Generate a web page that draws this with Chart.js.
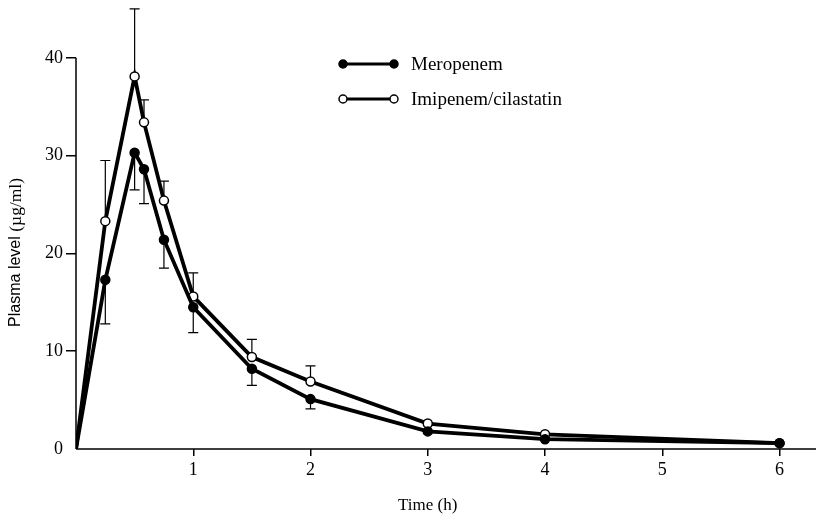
<!DOCTYPE html>
<html>
<head>
<meta charset="utf-8">
<script src="https://cdn.jsdelivr.net/npm/chart.js@4/dist/chart.umd.min.js"></script>
<style>
    html, body { margin: 0; padding: 0; background: #fff; }
</style>
</head>
<body>
<canvas id="chart" width="816" height="522"></canvas>
<script>
// Время отбора проб (ч)
const times = [0, 0.25, 0.5, 0.58, 0.75, 1, 1.5, 2, 3, 4, 6];
// Средние уровни в плазме (мкг/мл)
const meropenem = [0, 17.3, 30.3, 28.6, 21.4, 14.5, 8.2, 5.1, 1.8, 1.0, 0.6];
const imipenem = [0, 23.3, 38.1, 33.4, 25.4, 15.6, 9.4, 6.9, 2.6, 1.5, 0.6];
// Стандартные отклонения (у меропенема вниз, у имипенема вверх)
const meropenemSD = [null, 4.5, 3.8, 3.5, 2.9, 2.6, 1.7, 1.0, null, null, null];
const imipenemSD = [null, 6.2, 6.9, 2.3, 2.0, 2.4, 1.8, 1.6, null, null, null];
// Подписи
const seriesNames = ['Meropenem', 'Imipenem/cilastatin'];
const xTitle = 'Time (h)';
const yTitleSans = 'Plasma level ';
const yTitleSerif = '(\u00b5g/ml)';

const serif = "'Liberation Serif', 'DejaVu Serif', serif";
const sans = "'Liberation Sans', Arial, sans-serif";

function toPoints(values) {
    return values.map((v, i) => ({ x: times[i], y: v }));
}

// Планки погрешностей, оси, подписи осей и легенда
const decorPlugin = {
    id: 'decor',
    beforeDatasetsDraw(chart) {
        const ctx = chart.ctx;
        const xs = chart.scales.x;
        const ys = chart.scales.y;
        ctx.save();
        ctx.strokeStyle = '#000';
        ctx.lineWidth = 1.2;
        function bar(t, from, to) {
            const px = xs.getPixelForValue(t);
            const y1 = ys.getPixelForValue(from);
            const y2 = ys.getPixelForValue(to);
            ctx.beginPath();
            ctx.moveTo(px, y1);
            ctx.lineTo(px, y2);
            ctx.moveTo(px - 5, y2);
            ctx.lineTo(px + 5, y2);
            ctx.stroke();
        }
        times.forEach((t, i) => {
            if (meropenemSD[i] != null) bar(t, meropenem[i], meropenem[i] - meropenemSD[i]);
            if (imipenemSD[i] != null) bar(t, imipenem[i], imipenem[i] + imipenemSD[i]);
        });

        // Ось X до правого края, ось Y только от 0 до 40
        const left = chart.chartArea.left;
        const y0 = ys.getPixelForValue(0);
        ctx.lineWidth = 1.5;
        ctx.beginPath();
        ctx.moveTo(left, y0);
        ctx.lineTo(chart.width, y0);
        ctx.moveTo(left, y0);
        ctx.lineTo(left, ys.getPixelForValue(40));
        ctx.stroke();
        ctx.restore();
    },
    afterDraw(chart) {
        const ctx = chart.ctx;
        const xs = chart.scales.x;
        const ys = chart.scales.y;
        ctx.save();
        // Подпись оси X
        ctx.fillStyle = '#000';
        ctx.font = '17px ' + serif;
        ctx.textAlign = 'center';
        ctx.textBaseline = 'middle';
        ctx.fillText(xTitle, xs.getPixelForValue(3.0), 506);

        // Подпись оси Y: «Plasma level» рубленым, единицы с засечками
        ctx.translate(16, ys.getPixelForValue(20.1));
        ctx.rotate(-Math.PI / 2);
        ctx.textAlign = 'left';
        ctx.font = '16px ' + sans;
        const w1 = ctx.measureText(yTitleSans).width;
        ctx.font = '17.5px ' + serif;
        const w2 = ctx.measureText(yTitleSerif).width;
        const start = -(w1 + w2) / 2;
        ctx.font = '16px ' + sans;
        ctx.fillText(yTitleSans, start, 0);
        ctx.font = '17.5px ' + serif;
        ctx.fillText(yTitleSerif, start + w1, 0);
        ctx.restore();

        // Легенда
        ctx.save();
        const rows = [
            { y: 64, fill: '#000', label: seriesNames[0] },
            { y: 99, fill: '#fff', label: seriesNames[1] }
        ];
        rows.forEach(r => {
            ctx.strokeStyle = '#000';
            ctx.lineWidth = 3;
            ctx.beginPath();
            ctx.moveTo(343, r.y);
            ctx.lineTo(394, r.y);
            ctx.stroke();
            [343, 394].forEach(cx => {
                ctx.beginPath();
                ctx.arc(cx, r.y, 4, 0, Math.PI * 2);
                ctx.fillStyle = r.fill;
                ctx.fill();
                ctx.lineWidth = 1.5;
                ctx.stroke();
            });
            ctx.fillStyle = '#000';
            ctx.font = '19px ' + serif;
            ctx.textAlign = 'left';
            ctx.textBaseline = 'middle';
            ctx.fillText(r.label, 411, r.y + 1);
        });
        ctx.restore();
    }
};

const tickColor = ctx => (ctx.tick && ctx.tick.value === 0) ? 'rgba(0,0,0,0)' : '#000';

new Chart(document.getElementById('chart'), {
    type: 'line',
    data: {
        datasets: [
            {
                label: seriesNames[0],
                data: toPoints(meropenem),
                borderColor: '#000',
                borderWidth: 3.8,
                pointBackgroundColor: '#000',
                pointBorderColor: '#000',
                pointBorderWidth: 1.5,
                pointRadius: ctx => ctx.dataIndex === 0 ? 0 : 4.5,
                tension: 0,
                fill: false
            },
            {
                label: seriesNames[1],
                data: toPoints(imipenem),
                borderColor: '#000',
                borderWidth: 3.8,
                pointBackgroundColor: '#fff',
                pointBorderColor: '#000',
                pointBorderWidth: 1.5,
                pointRadius: ctx => ctx.dataIndex === 0 ? 0 : 4.5,
                tension: 0,
                fill: false
            }
        ]
    },
    options: {
        responsive: false,
        animation: false,
        layout: { padding: 0 },
        plugins: {
            legend: { display: false },
            tooltip: { enabled: false }
        },
        scales: {
            x: {
                type: 'linear',
                min: 0,
                max: 6.26,
                afterFit: scale => { scale.height = 73; },
                border: { display: false },
                grid: {
                    drawOnChartArea: false,
                    drawTicks: true,
                    tickLength: 7,
                    color: tickColor,
                    lineWidth: 1.5
                },
                ticks: {
                    stepSize: 1,
                    includeBounds: false,
                    maxRotation: 0,
                    padding: 3,
                    color: '#000',
                    font: { family: serif, size: 18 },
                    callback: v => v === 0 ? '' : v
                }
            },
            y: {
                min: 0,
                max: 44.5,
                afterFit: scale => { scale.width = 76; },
                border: { display: false },
                grid: {
                    drawOnChartArea: false,
                    drawTicks: true,
                    tickLength: 10,
                    color: tickColor,
                    lineWidth: 1.5
                },
                ticks: {
                    stepSize: 10,
                    includeBounds: false,
                    padding: 3,
                    color: '#000',
                    font: { family: serif, size: 18 }
                }
            }
        }
    },
    plugins: [decorPlugin]
});
</script>
</body>
</html>
